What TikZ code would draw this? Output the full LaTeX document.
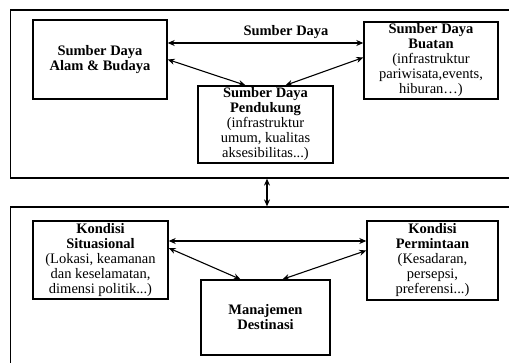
\documentclass[tikz,border=0pt]{standalone}
\usepackage{fontspec}
\setmainfont{Liberation Serif}
\usetikzlibrary{arrows.meta}
\begin{document}
\begin{tikzpicture}[x=1pt,y=-1pt,
  box/.style={draw, line width=1.4pt, align=center, inner sep=0pt, font=\fontsize{14.5}{15}\selectfont},
  frame/.style={draw, line width=1.2pt, inner sep=0pt},
  conn/.style={line width=1.1pt, {Stealth[length=7pt,width=6pt]}-{Stealth[length=7pt,width=6pt]}},
  lbl/.style={font=\fontsize{14.5}{15}\selectfont\bfseries, inner sep=0pt}
]
\useasboundingbox (0,0) rectangle (509,363);
\fill[white] (0,0) rectangle (509,363);
% outer frames
\node[frame, minimum width=505pt, minimum height=168pt] (topframe) at (263,94) {};
\node[frame, minimum width=505pt, minimum height=173pt] (botframe) at (263,293.5) {};
% top boxes
\node[box, minimum width=134pt, minimum height=79pt] (alam) at (100,59.5)
  {\textbf{Sumber Daya}\\\textbf{Alam \& Budaya}};
\node[box, minimum width=134pt, minimum height=77pt] (buatan) at (431,60.5)
  {\textbf{Sumber Daya}\\\textbf{Buatan}\\(infrastruktur\\pariwisata,events,\\hiburan…)};
\node[box, minimum width=135pt, minimum height=77pt] (pendukung) at (265.5,124.5)
  {\textbf{Sumber Daya}\\\textbf{Pendukung}\\(infrastruktur\\umum, kualitas\\aksesibilitas...)};
\node[lbl] (sd) at (286,32) {Sumber Daya};
% bottom boxes
\node[box, minimum width=135pt, minimum height=78pt] (situasi) at (100.5,260)
  {\textbf{Kondisi}\\\textbf{Situasional}\\(Lokasi, keamanan\\dan keselamatan,\\dimensi politik...)};
\node[box, minimum width=131pt, minimum height=79pt] (permintaan) at (432.5,260.5)
  {\textbf{Kondisi}\\\textbf{Permintaan}\\(Kesadaran,\\persepsi,\\preferensi...)};
\node[box, minimum width=129pt, minimum height=75pt] (manajemen) at (265.5,317.5)
  {\textbf{Manajemen}\\\textbf{Destinasi}};
% connectors
\coordinate (h1) at ([yshift=16.5pt]alam.east);
\draw[conn] (h1) -- (h1 -| buatan.west);
\draw[conn] (alam.east) -- ([xshift=-20pt]pendukung.north);
\draw[conn] ([xshift=20pt]pendukung.north) -- ([yshift=3pt]buatan.west);
\coordinate (h2) at ([yshift=19pt]situasi.east);
\draw[conn] (h2) -- (h2 -| permintaan.west);
\draw[conn] ([yshift=12pt]situasi.east) -- ([xshift=-25pt]manajemen.north);
\draw[conn] ([xshift=17pt]manajemen.north) -- ([yshift=10pt]permintaan.west);
\coordinate (v1) at ([xshift=1.5pt]pendukung.center |- topframe.south);
\draw[conn] (v1) -- (v1 |- botframe.north);
\end{tikzpicture}
\end{document}
